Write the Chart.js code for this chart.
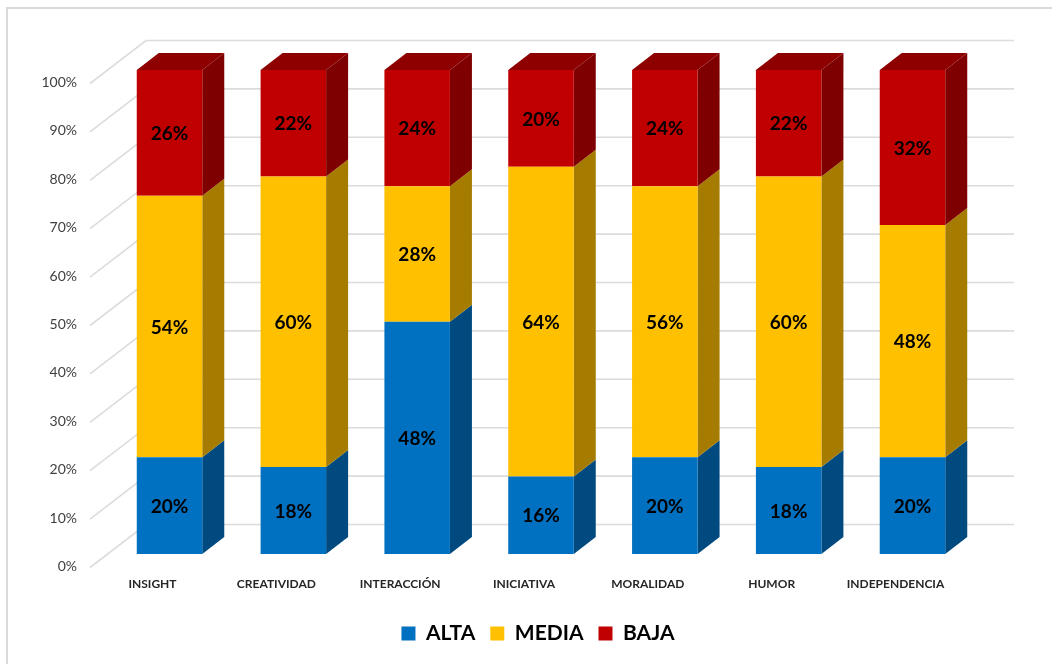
<!DOCTYPE html>
<html>
<head>
<meta charset="utf-8">
<script src="https://cdn.jsdelivr.net/npm/chart.js@4"></script>
<style>
  html, body { margin: 0; background: #fff; overflow: hidden; }
  #frame { position: absolute; left: 6px; top: 7px; width: 1060px; height: 670px; border: 2px solid #d9d9d9; }
  canvas { position: absolute; left: 0; top: 0; }
</style>
</head>
<body>
<div id="frame"></div>
<canvas id="chart" width="1052" height="664"></canvas>
<script>
const categories = ['INSIGHT', 'CREATIVIDAD', 'INTERACCIÓN', 'INICIATIVA', 'MORALIDAD', 'HUMOR', 'INDEPENDENCIA'];
const alta = [20, 18, 48, 16, 20, 18, 20];
const media = [54, 60, 28, 64, 56, 60, 48];
const baja = [26, 22, 24, 20, 24, 22, 32];

const frontColors = ['#0070C0', '#FFC000', '#C00000'];
const sideColors = ['#004A7F', '#A67C00', '#7F0000'];
const topColor = '#8E0000';
const gridColor = '#DCDCDC';

// 3d look: how far the bars and the back wall are pushed away from the y scale
const depthX = 22, depthY = 17;
const wallDY = 29.5, wallLeft = 146, wallRight = 1014;
const floorDX = 56, floorDY = 43;
const labelFont = 'Lato, sans-serif';

const poly = (ctx, pts, color) => {
    ctx.fillStyle = color;
    ctx.beginPath();
    pts.forEach((p, i) => i ? ctx.lineTo(p[0], p[1]) : ctx.moveTo(p[0], p[1]));
    ctx.closePath();
    ctx.fill();
};

const wallPlugin = {
    id: 'wall',
    beforeDatasetsDraw(chart) {
        const { ctx, scales: { y } } = chart;
        ctx.save();
        ctx.strokeStyle = gridColor;
        ctx.lineWidth = 1.6;
        y.ticks.forEach((t) => {
            const py = y.getPixelForValue(t.value) - wallDY;
            ctx.beginPath();
            ctx.moveTo(wallLeft - floorDX, py + floorDY);
            ctx.lineTo(wallLeft, py);
            ctx.lineTo(wallRight, py);
            ctx.stroke();
        });
        ctx.restore();
    },
};

const sidesPlugin = {
    id: 'sides',
    beforeDatasetsDraw(chart) {
        const { ctx } = chart;
        ctx.save();
        chart.data.datasets.forEach((ds, d) => {
            chart.getDatasetMeta(d).data.forEach((bar) => {
                const right = bar.x + bar.width / 2;
                const left = bar.x - bar.width / 2;
                poly(ctx, [[right, bar.y], [right + depthX, bar.y - depthY], [right + depthX, bar.base - depthY], [right, bar.base]], sideColors[d]);
                if (d === chart.data.datasets.length - 1) {
                    poly(ctx, [[left, bar.y], [left + depthX, bar.y - depthY], [right + depthX, bar.y - depthY], [right, bar.y]], topColor);
                }
            });
        });
        ctx.restore();
    },
};

const valueLabels = {
    id: 'valueLabels',
    afterDatasetsDraw(chart) {
        const { ctx } = chart;
        ctx.save();
        ctx.fillStyle = '#000';
        ctx.font = 'bold 19px ' + labelFont;
        ctx.textAlign = 'center';
        ctx.textBaseline = 'middle';
        chart.data.datasets.forEach((ds, d) => {
            chart.getDatasetMeta(d).data.forEach((bar, i) => {
                ctx.fillText(ds.data[i] + '%', bar.x, (bar.y + bar.base) / 2 + 1);
            });
        });
        ctx.restore();
    },
};

// legend sits a little left of the plot centre
const legendNudge = {
    id: 'legendNudge',
    afterLayout(chart) {
        chart.legend.left -= 3;
        chart.legend.right -= 3;
    },
};

new Chart(document.getElementById('chart'), {
    type: 'bar',
    data: {
        labels: categories,
        datasets: [
            { label: 'ALTA', data: alta, backgroundColor: frontColors[0] },
            { label: 'MEDIA', data: media, backgroundColor: frontColors[1] },
            { label: 'BAJA', data: baja, backgroundColor: frontColors[2] },
        ],
    },
    options: {
        responsive: false,
        animation: false,
        layout: { padding: { top: 70, right: 77.6, bottom: 10, left: 0 } },
        datasets: { bar: { categoryPercentage: 1, barPercentage: 0.529, borderWidth: 0 } },
        scales: {
            x: {
                stacked: true,
                grid: { display: false },
                border: { display: false },
                afterFit: (s) => { s.height = 54; },
                ticks: {
                    autoSkip: false, maxRotation: 0, minRotation: 0, labelOffset: -17, padding: 14.5,
                    color: '#262626',
                    font: { family: labelFont, size: 12, weight: 'bold' },
                },
            },
            y: {
                stacked: true,
                min: 0,
                max: 100,
                grid: { display: false },
                border: { display: false },
                afterFit: (s) => { s.width = 107.6; },
                ticks: {
                    stepSize: 10, labelOffset: 12.5, padding: 22.6,
                    color: '#404040',
                    font: { family: labelFont, size: 14 },
                    callback: (v) => v + '%',
                },
            },
        },
        plugins: {
            tooltip: { enabled: false },
            legend: {
                position: 'bottom',
                fullSize: false,
                labels: {
                    boxWidth: 14, boxHeight: 14, padding: 15, color: '#000',
                    font: { family: labelFont, size: 21, weight: 'bold' },
                },
            },
        },
    },
    plugins: [wallPlugin, sidesPlugin, valueLabels, legendNudge],
});
</script>
</body>
</html>
